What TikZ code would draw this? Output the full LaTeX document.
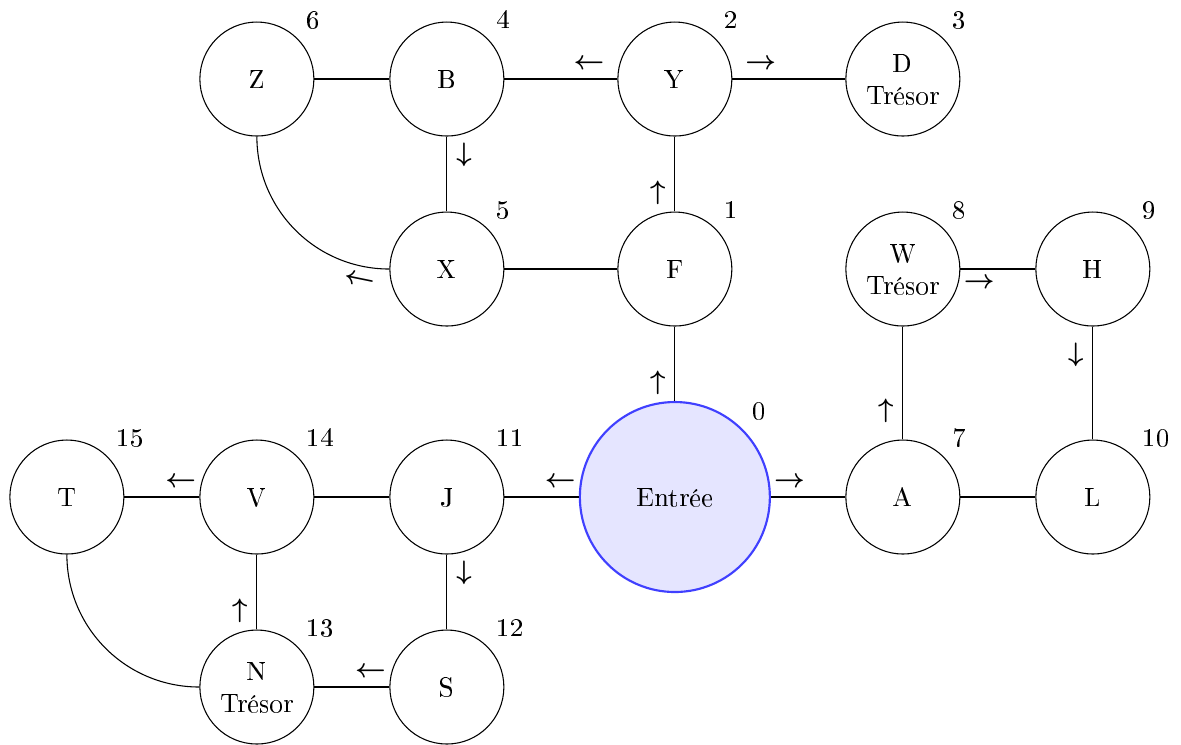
\documentclass[tikz,border=0pt]{standalone}
\usepackage[T1]{fontenc}
\usepackage{tikz}

\begin{document}
\begin{tikzpicture}[salle/.style={circle,draw,minimum size=1.5cm,align=center,inner sep=1pt},
		entree/.style={circle,draw=blue!75,fill=blue!10,thick,minimum size=2.5cm},
		sens/.style={font=\boldmath}]
		\useasboundingbox (-0.88,-3.25) rectangle (14.66,6.54);
		
		\node[entree,label={45:0}] (E) at (8,0) {Entrée};
		\node[salle,label={45:1}] (F) at (8,3) {F};
		\node[salle,label={45:2}] (Y) at (8,5.5) {Y};
		\node[salle,label={45:3}] (D) at (11,5.5) {D\\Trésor};
		\node[salle,label={45:4}] (B) at (5,5.5) {B};
		\node[salle,label={45:5}] (X) at (5,3) {X};
		\node[salle,label={45:6}] (Z) at (2.5,5.5) {Z};
		\node[salle,label={45:7}] (A) at (11,0) {A};
		\node[salle,label={45:8}] (W) at (11,3) {W\\Trésor};
		\node[salle,label={45:9}] (H) at (13.5,3) {H};
		\node[salle,label={45:10}] (L) at (13.5,0) {L};
		\node[salle,label={45:11}] (J) at (5,0) {J};
		\node[salle,label={45:12}] (S) at (5,-2.5) {S};
		\node[salle,label={45:13}] (N) at (2.5,-2.5) {N\\Trésor};
		\node[salle,label={45:14}] (V) at (2.5,0) {V};
		\node[salle,label={45:15}] (T) at (0,0) {T};
		
		\draw (E) -- node[sens,near start,left] {$\uparrow$} (F);
		\draw (F) -- node[sens,near start,left] {$\uparrow$} (Y);
		\draw (Y) -- node[sens,near start,above] {$\rightarrow$} (D);
		\draw (Y) -- node[sens,near start,above] {$\leftarrow$} (B);
		\draw (B) -- node[sens,near start,right] {$\downarrow$} (X);
		\draw (X) -- (F);
		\draw (Z) -- (B);
		\draw (X) to[out=180,in=-90] node[sens,very near start,below,sloped] {$\leftarrow$} (Z);
		
		\draw (E) -- node[sens,near start,above] {$\rightarrow$} (A);
		\draw (A) -- node[sens,near start,left] {$\uparrow$} (W);
		\draw (W) -- node[sens,near start,below] {$\rightarrow$} (H);
		\draw (H) -- node[sens,near start,left] {$\downarrow$} (L);
		\draw (A) -- (L);
		
		\draw (E) -- node[sens,near start,above] {$\leftarrow$} (J);
		\draw (J) -- node[sens,near start,right] {$\downarrow$} (S);
		\draw (S) -- node[sens,near start,above] {$\leftarrow$} (N);
		\draw (N) -- node[sens,near start,left] {$\uparrow$} (V);
		\draw (J) -- (V);
		\draw (V) -- node[sens,near start,above] {$\leftarrow$} (T);
		\draw (T) to[out=-90,in=180] (N);
\end{tikzpicture}
\end{document}
